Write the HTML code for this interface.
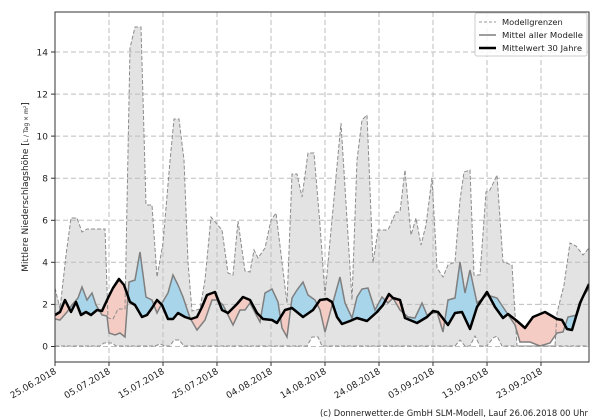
<!DOCTYPE html>
<html><head><meta charset="utf-8"><style>
html,body{margin:0;padding:0;background:#fff;}
svg{display:block;font-family:"DejaVu Sans","Liberation Sans",sans-serif;}
</style></head><body>
<svg width="600" height="420" viewBox="0 0 600 420" xmlns="http://www.w3.org/2000/svg">
<defs>
<clipPath id="axes"><rect x="55" y="12" width="534" height="350"/></clipPath>
<clipPath id="aboveBlack"><polygon points="55,0 55,315 60,312 65,300 71,312 76,302 81,315 86,312 91,315 97,310 102,311 108,298 113,288 119,279 124,285 130,302 135,305 142,317 147,315 152,308 157,300 162,305 168,319 173,319 178,313 185,317 191,319 197,317 202,307 207,295 215,292 222,310 228,313 237,304 243,297 250,300 257,313 263,319 272,320 277,323 285,310 292,308 303,317 313,310 320,300 327,299 332,302 337,317 342,324 350,321 357,318 367,321 377,312 383,305 389,294 393,298 400,300 405,318 417,323 427,317 433,311 438,312 448,325 455,313 462,312 470,329 477,307 487,292 495,307 503,318 508,314 517,321 525,328 533,317 545,312 557,319 562,320 567,329 572,330 580,303 589,284 589,0"/></clipPath>
<clipPath id="belowBlack"><polygon points="55,420 55,315 60,312 65,300 71,312 76,302 81,315 86,312 91,315 97,310 102,311 108,298 113,288 119,279 124,285 130,302 135,305 142,317 147,315 152,308 157,300 162,305 168,319 173,319 178,313 185,317 191,319 197,317 202,307 207,295 215,292 222,310 228,313 237,304 243,297 250,300 257,313 263,319 272,320 277,323 285,310 292,308 303,317 313,310 320,300 327,299 332,302 337,317 342,324 350,321 357,318 367,321 377,312 383,305 389,294 393,298 400,300 405,318 417,323 427,317 433,311 438,312 448,325 455,313 462,312 470,329 477,307 487,292 495,307 503,318 508,314 517,321 525,328 533,317 545,312 557,319 562,320 567,329 572,330 580,303 589,284 589,420"/></clipPath>
</defs>
<g clip-path="url(#axes)">
<polygon fill="#e3e3e3" points="55,288 60,309 66,255 71,218 77,218 82,232 87,229 92,229 105,229 108,318 113,319 118,309 125,309 130,48 135,27 141,27 146,205 152,205 157,277 163,243 170,161 174,119 179,119 184,160 188,262 192,311 200,309 205,280 211,217 222,230 228,273 233,275 238,221 245,271 250,272 254,250 258,258 265,248 271,220 276,213 287,303 292,174 297,174 302,197 308,153 314,153 320,225 325,295 341,123 352,300 357,160 362,120 367,115 373,263 378,230 388,230 396,212 400,212 405,170 411,235 416,218 421,245 426,225 432,178 437,268 443,277 448,265 455,262 460,200 464,172 470,170 474,275 480,275 486,192 490,190 497,175 503,262 512,265 517,346 555,346 557,313 564,285 570,243 576,246 583,255 589,248 589,346 502,346 497,336 493,338 487,346 480,346 475,336 470,346 465,346 460,340 455,346 322,346 318,337 312,337 307,346 184,346 179,340 174,340 170,346 165,346 160,344 155,346 116,346 112,343 104,343 100,346 55,346"/>
<g stroke="#bdbdbd" stroke-width="1" stroke-dasharray="5,3" fill="none">
<line x1="55" y1="346.5" x2="589" y2="346.5"/><line x1="55" y1="304.4" x2="589" y2="304.4"/><line x1="55" y1="262.3" x2="589" y2="262.3"/><line x1="55" y1="220.3" x2="589" y2="220.3"/><line x1="55" y1="178.2" x2="589" y2="178.2"/><line x1="55" y1="136.1" x2="589" y2="136.1"/><line x1="55" y1="94.1" x2="589" y2="94.1"/><line x1="55" y1="52" x2="589" y2="52"/>
<line x1="109" y1="12" x2="109" y2="362"/><line x1="163" y1="12" x2="163" y2="362"/><line x1="217" y1="12" x2="217" y2="362"/><line x1="271" y1="12" x2="271" y2="362"/><line x1="325" y1="12" x2="325" y2="362"/><line x1="379" y1="12" x2="379" y2="362"/><line x1="433" y1="12" x2="433" y2="362"/><line x1="487" y1="12" x2="487" y2="362"/><line x1="541" y1="12" x2="541" y2="362"/>
</g>
<polygon clip-path="url(#aboveBlack)" fill="#a8d5ea" points="55,420 55,319 60,320 67,312 72,305 78,298 82,287 87,300 92,293 96,305 102,315 107,316 109,333 115,335 120,333 125,337 129,282 135,280 140,252 146,297 152,300 157,313 162,303 168,293 173,275 178,285 183,297 190,318 197,330 205,320 212,300 217,300 223,305 233,325 240,310 245,310 250,303 260,322 265,293 272,289 278,302 282,328 287,337 292,298 297,290 303,282 308,295 315,300 320,310 325,332 330,313 340,277 345,303 352,318 357,297 362,289 368,288 375,310 382,297 388,303 393,298 400,310 408,317 415,318 422,303 427,315 437,312 443,332 448,300 455,298 460,262 465,293 470,270 477,303 487,295 497,298 507,313 515,325 520,342 530,342 540,346 550,343 557,333 563,332 568,317 577,315 583,297 589,288 589,420"/>
<polygon clip-path="url(#belowBlack)" fill="#f5ccc4" points="55,0 55,319 60,320 67,312 72,305 78,298 82,287 87,300 92,293 96,305 102,315 107,316 109,333 115,335 120,333 125,337 129,282 135,280 140,252 146,297 152,300 157,313 162,303 168,293 173,275 178,285 183,297 190,318 197,330 205,320 212,300 217,300 223,305 233,325 240,310 245,310 250,303 260,322 265,293 272,289 278,302 282,328 287,337 292,298 297,290 303,282 308,295 315,300 320,310 325,332 330,313 340,277 345,303 352,318 357,297 362,289 368,288 375,310 382,297 388,303 393,298 400,310 408,317 415,318 422,303 427,315 437,312 443,332 448,300 455,298 460,262 465,293 470,270 477,303 487,295 497,298 507,313 515,325 520,342 530,342 540,346 550,343 557,333 563,332 568,317 577,315 583,297 589,288 589,0"/>
<polyline fill="none" stroke="#8c8c8c" stroke-width="1" stroke-dasharray="4,2" points="55,288 60,309 66,255 71,218 77,218 82,232 87,229 92,229 105,229 108,318 113,319 118,309 125,309 130,48 135,27 141,27 146,205 152,205 157,277 163,243 170,161 174,119 179,119 184,160 188,262 192,311 200,309 205,280 211,217 222,230 228,273 233,275 238,221 245,271 250,272 254,250 258,258 265,248 271,220 276,213 287,303 292,174 297,174 302,197 308,153 314,153 320,225 325,295 341,123 352,300 357,160 362,120 367,115 373,263 378,230 388,230 396,212 400,212 405,170 411,235 416,218 421,245 426,225 432,178 437,268 443,277 448,265 455,262 460,200 464,172 470,170 474,275 480,275 486,192 490,190 497,175 503,262 512,265 517,346 555,346 557,313 564,285 570,243 576,246 583,255 589,248"/>
<polyline fill="none" stroke="#8c8c8c" stroke-width="1" stroke-dasharray="4,2" points="55,346 100,346 104,343 112,343 116,346 155,346 160,344 165,346 170,346 174,340 179,340 184,346 307,346 312,337 318,337 322,346 455,346 460,340 465,346 470,346 475,336 480,346 487,346 493,338 497,336 502,346 589,346"/>
<polyline fill="none" stroke="#7f7f7f" stroke-width="1.5" points="55,319 60,320 67,312 72,305 78,298 82,287 87,300 92,293 96,305 102,315 107,316 109,333 115,335 120,333 125,337 129,282 135,280 140,252 146,297 152,300 157,313 162,303 168,293 173,275 178,285 183,297 190,318 197,330 205,320 212,300 217,300 223,305 233,325 240,310 245,310 250,303 260,322 265,293 272,289 278,302 282,328 287,337 292,298 297,290 303,282 308,295 315,300 320,310 325,332 330,313 340,277 345,303 352,318 357,297 362,289 368,288 375,310 382,297 388,303 393,298 400,310 408,317 415,318 422,303 427,315 437,312 443,332 448,300 455,298 460,262 465,293 470,270 477,303 487,295 497,298 507,313 515,325 520,342 530,342 540,346 550,343 557,333 563,332 568,317 577,315 583,297 589,288"/>
<polyline fill="none" stroke="#000" stroke-width="2.5" stroke-linejoin="round" points="55,315 60,312 65,300 71,312 76,302 81,315 86,312 91,315 97,310 102,311 108,298 113,288 119,279 124,285 130,302 135,305 142,317 147,315 152,308 157,300 162,305 168,319 173,319 178,313 185,317 191,319 197,317 202,307 207,295 215,292 222,310 228,313 237,304 243,297 250,300 257,313 263,319 272,320 277,323 285,310 292,308 303,317 313,310 320,300 327,299 332,302 337,317 342,324 350,321 357,318 367,321 377,312 383,305 389,294 393,298 400,300 405,318 417,323 427,317 433,311 438,312 448,325 455,313 462,312 470,329 477,307 487,292 495,307 503,318 508,314 517,321 525,328 533,317 545,312 557,319 562,320 567,329 572,330 580,303 589,284"/>
</g>
<rect x="55" y="12" width="534" height="350" fill="none" stroke="#333" stroke-width="1"/>
<g stroke="#333" stroke-width="1">
<line x1="51" y1="346.5" x2="55" y2="346.5"/><line x1="51" y1="304.4" x2="55" y2="304.4"/><line x1="51" y1="262.3" x2="55" y2="262.3"/><line x1="51" y1="220.3" x2="55" y2="220.3"/><line x1="51" y1="178.2" x2="55" y2="178.2"/><line x1="51" y1="136.1" x2="55" y2="136.1"/><line x1="51" y1="94.1" x2="55" y2="94.1"/><line x1="51" y1="52" x2="55" y2="52"/>
<line x1="55" y1="362" x2="55" y2="366"/><line x1="109" y1="362" x2="109" y2="366"/><line x1="163" y1="362" x2="163" y2="366"/><line x1="217" y1="362" x2="217" y2="366"/><line x1="271" y1="362" x2="271" y2="366"/><line x1="325" y1="362" x2="325" y2="366"/><line x1="379" y1="362" x2="379" y2="366"/><line x1="433" y1="362" x2="433" y2="366"/><line x1="487" y1="362" x2="487" y2="366"/><line x1="541" y1="362" x2="541" y2="366"/>
</g>
<g font-size="9" fill="#222" text-anchor="end">
<text x="48" y="349.5">0</text><text x="48" y="307.5">2</text><text x="48" y="265.5">4</text><text x="48" y="223.5">6</text><text x="48" y="181.5">8</text><text x="48" y="139.5">10</text><text x="48" y="97.5">12</text><text x="48" y="55.5">14</text>
</g>
<g font-size="9" fill="#222" text-anchor="end">
<text transform="translate(57,373) rotate(-30)">25.06.2018</text>
<text transform="translate(111,373) rotate(-30)">05.07.2018</text>
<text transform="translate(165,373) rotate(-30)">15.07.2018</text>
<text transform="translate(219,373) rotate(-30)">25.07.2018</text>
<text transform="translate(273,373) rotate(-30)">04.08.2018</text>
<text transform="translate(327,373) rotate(-30)">14.08.2018</text>
<text transform="translate(381,373) rotate(-30)">24.08.2018</text>
<text transform="translate(435,373) rotate(-30)">03.09.2018</text>
<text transform="translate(489,373) rotate(-30)">13.09.2018</text>
<text transform="translate(543,373) rotate(-30)">23.09.2018</text>
</g>
<text transform="translate(28,187) rotate(-90)" font-size="9" fill="#222" text-anchor="middle">Mittlere Niederschlagshöhe [<tspan font-size="6">L / Tag × m²</tspan>]</text>
<rect x="475" y="13" width="112" height="43" rx="2" fill="#fff" fill-opacity="0.85" stroke="#ccc"/>
<g font-size="8.3" fill="#222">
<line x1="479" y1="22" x2="496" y2="22" stroke="#999" stroke-dasharray="3,2"/><text x="502" y="25">Modellgrenzen</text>
<line x1="479" y1="35" x2="496" y2="35" stroke="#7f7f7f" stroke-width="1.5"/><text x="502" y="38" textLength="81" lengthAdjust="spacingAndGlyphs">Mittel aller Modelle</text>
<line x1="479" y1="48" x2="496" y2="48" stroke="#000" stroke-width="2.5"/><text x="502" y="51" textLength="80" lengthAdjust="spacingAndGlyphs">Mittelwert 30 Jahre</text>
</g>
<text x="588" y="416" font-size="9" fill="#222" text-anchor="end" textLength="268" lengthAdjust="spacingAndGlyphs">(c) Donnerwetter.de GmbH SLM-Modell, Lauf 26.06.2018 00 Uhr</text>
</svg>
</body></html>
